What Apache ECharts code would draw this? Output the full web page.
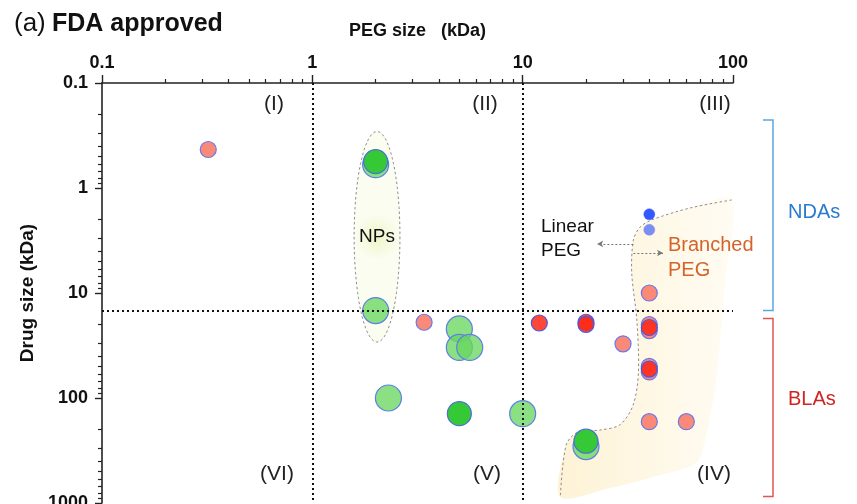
<!DOCTYPE html>
<html><head><meta charset="utf-8">
<script src="https://cdn.jsdelivr.net/npm/echarts@6/dist/echarts.min.js"></script>
<style>html,body{margin:0;padding:0;background:#fff}#c{width:857px;height:504px}</style>
</head><body><div id="c"></div>
<script>
// ---- tick values ----
const xMajorTicks = [0.1, 1, 10, 100];
const xMinorTicks = [0.2,0.3,0.4,0.5,0.6,0.7,0.8,0.9, 2,3,4,5,6,7,8,9, 20,30,40,50,60,70,80,90];
const yMajorTicks = [0.1, 1, 10, 100, 1000];
const yMinorTicks = [0.2,0.3,0.4,0.5,0.6,0.7,0.8,0.9, 2,3,4,5,6,7,8,9, 20,30,40,50,60,70,80,90, 200,300,400,500,600,700,800,900];

// ---- data: [PEG size kDa, drug size kDa] ----
const salmonPts = [[0.32,0.43],[3.4,19],[30,30.5],[40,10],[40,20],[40,22.8],[40,50],[40,56.5],[40,168],[60,168]];
const redPts = [[12,19.3],[20,19],[20,19.9],[40,21.3],[40,53]];
const lightGreenPts = [[2,0.6],[2,14.7],[5,22],[5,33],[5.6,33],[2.3,100],[10,141],[20,290]];
const darkGreenPts = [[2,0.56],[5,141],[20,258]];
const bluePts = [[40,1.78]];
const lightBluePts = [[40,2.5]];

// ---- guides ----
const pegDividers = [1, 10];
const drugDivider = 14.7;
const npEllipseBox = [[1.58, 0.29], [2.61, 29.3]];
const branchedEdge = [[98.7,1.30],[62.5,1.55],[41.7,1.99],[36.2,2.35],[33.6,3.13],[33.0,6.45],[34.9,18.1],[35.5,57.8],[33.5,117],[29.0,180],[23.3,202],[18.3,211],[16.1,280],[15.1,877]];
const branchedRight = [[26,720],[45,541],[66.8,416],[73.7,251],[83.2,67.4],[91.7,7.52]];
const linearArrow = [[33.6,3.41],[22.6,3.41]];
const branchedArrow = [[33.6,4.16],[46.5,4.16]];

const FONT = '"Liberation Sans", Arial, sans-serif';
const chart = echarts.init(document.getElementById('c'));

function scatter(name, data, color, size, z, border, bw) {
  return {
    name, type: 'scatter', data, symbolSize: size, z,
    itemStyle: { color, borderColor: border || '#6a78ec', borderWidth: bw || 1, opacity: 1 },
    emphasis: { disabled: true }
  };
}

const axisCommonX = {
  type: 'log', logBase: 10, min: 0.1, max: 100, position: 'top', gridIndex: 0,
  splitLine: { show: false }, minorTick: { show: false }
};
const axisCommonY = {
  type: 'log', logBase: 10, min: 0.1, max: 1000, inverse: true, position: 'left', gridIndex: 0,
  splitLine: { show: false }, minorTick: { show: false }
};

const option = {
  animation: false,
  backgroundColor: '#fff',
  grid: { left: 102, top: 83, right: 124, bottom: 1, containLabel: false, outerBoundsMode: 'none' },
  xAxis: [
    Object.assign({}, axisCommonX, {
      name: 'PEG size   (kDa)', nameLocation: 'middle', nameGap: 43,
      nameTextStyle: { fontFamily: FONT, fontWeight: 'bold', fontSize: 18, color: '#111' },
      axisLine: { show: true, lineStyle: { color: '#222', width: 1.6 } },
      axisTick: { show: true, length: 8, lineStyle: { color: '#222', width: 1.4 }, customValues: xMajorTicks },
      axisLabel: { show: true, margin: 11, fontFamily: FONT, fontWeight: 'bold', fontSize: 18, color: '#111',
        customValues: xMajorTicks, formatter: v => String(v) }
    }),
    Object.assign({}, axisCommonX, {
      offset: 0,
      axisLine: { show: false },
      axisTick: { show: true, length: 4, lineStyle: { color: '#222', width: 1.2 }, customValues: xMinorTicks },
      axisLabel: { show: false }
    })
  ],
  yAxis: [
    Object.assign({}, axisCommonY, {
      name: 'Drug size (kDa)', nameLocation: 'middle', nameGap: 64, nameRotate: 90,
      nameTextStyle: { fontFamily: FONT, fontWeight: 'bold', fontSize: 19, color: '#111' },
      axisLine: { show: true, lineStyle: { color: '#222', width: 1.6 } },
      axisTick: { show: true, length: 7, lineStyle: { color: '#222', width: 1.4 }, customValues: yMajorTicks },
      axisLabel: { show: true, margin: 14, fontFamily: FONT, fontWeight: 'bold', fontSize: 18, color: '#111',
        customValues: yMajorTicks, formatter: v => String(v) }
    }),
    Object.assign({}, axisCommonY, {
      offset: 0,
      axisLine: { show: false },
      axisTick: { show: true, length: 4, lineStyle: { color: '#222', width: 1.2 }, customValues: yMinorTicks },
      axisLabel: { show: false }
    })
  ],
  series: [
    {
      type: 'custom', name: 'regions', coordinateSystem: 'cartesian2d', data: [[1, 1]], z: 1, silent: true, clip: false,
      renderItem: function (params, api) {
        const edge = branchedEdge.map(p => api.coord(p));
        const right = branchedRight.map(p => api.coord(p));
        const fillPts = edge.concat(right);
        const a = api.coord(npEllipseBox[0]);
        const b = api.coord(npEllipseBox[1]);
        const cx = (a[0] + b[0]) / 2, cy = (a[1] + b[1]) / 2;
        const rx = Math.abs(b[0] - a[0]) / 2, ry = Math.abs(b[1] - a[1]) / 2;
        const ell = [];
        for (let i = 0; i < 90; i++) {
          const t = i / 90 * Math.PI * 2;
          ell.push([cx + rx * Math.cos(t), cy + ry * Math.sin(t)]);
        }
        return {
          type: 'group',
          children: [
            { type: 'polygon', shape: { points: fillPts, smooth: 0.3 },
              style: { fill: { type: 'linear', x: 0, y: 0, x2: 1, y2: 0, colorStops: [
                { offset: 0, color: 'rgba(253,240,206,0.85)' }, { offset: 1, color: 'rgba(255,251,240,0.8)' }] } } },
            { type: 'polyline', shape: { points: edge, smooth: 0.3 },
              style: { stroke: '#8c8c8c', lineWidth: 1, lineDash: [2.5, 2.5], fill: null } },
            { type: 'polygon', shape: { points: ell },
              style: { fill: { type: 'radial', x: 0.5, y: 0.5, r: 0.5, colorStops: [
                { offset: 0, color: '#eef6c8' }, { offset: 1, color: '#fbfdf1' }] },
                stroke: '#8c8c8c', lineWidth: 1, lineDash: [2.5, 2.5] } }
          ]
        };
      }
    },
    scatter('lightGreen', lightGreenPts, 'rgba(105,215,95,0.78)', 26, 3, '#5f7fe6', 1.2),
    scatter('darkGreen', darkGreenPts, '#36c936', 24, 4, '#4a70dc', 1.2),
    scatter('salmon', salmonPts, 'rgba(250,128,108,0.92)', 16, 5, '#6a78ec', 1.2),
    scatter('red', redPts, 'rgba(255,40,20,0.85)', 16, 6, '#4a5ae0', 1.2),
    scatter('lightBlue', lightBluePts, '#7b8ef2', 11, 6, '#7b8ef2', 0.5),
    scatter('blue', bluePts, '#3458ff', 11, 6, '#3458ff', 0.5),
    {
      type: 'scatter', name: 'guides', data: [], z: 10, silent: true,
      markLine: {
        silent: true, symbol: ['none', 'none'], label: { show: false }, animation: false,
        lineStyle: { color: '#111', width: 2, type: [2, 3] },
        emphasis: { disabled: true },
        data: [
          { xAxis: pegDividers[0] }, { xAxis: pegDividers[1] }, { yAxis: drugDivider }
        ]
      }
    },
    {
      type: 'scatter', name: 'arrows', data: [], z: 10, silent: true,
      markLine: {
        silent: true, symbol: ['none', 'arrow'], symbolSize: [5, 6], label: { show: false }, animation: false,
        lineStyle: { color: '#777', width: 1, type: [2, 2] },
        emphasis: { disabled: true },
        data: [
          [{ coord: linearArrow[0] }, { coord: linearArrow[1] }],
          [{ coord: branchedArrow[0] }, { coord: branchedArrow[1] }]
        ]
      }
    }
  ],
  graphic: [
    { type: 'text', left: 14, top: 11, style: { text: '(a)', fontFamily: FONT, fontSize: 26, fill: '#111' } },
    { type: 'text', left: 52, top: 12, style: { text: 'FDA approved', fontFamily: FONT, fontSize: 25, fontWeight: 'bold', fill: '#111' } },
    ...[['(I)', 274, 104], ['(II)', 485, 104], ['(III)', 715, 104], ['(VI)', 277, 474], ['(V)', 487, 474], ['(IV)', 714, 474]].map(q => ({
      type: 'text', x: q[1], y: q[2], z: 20,
      style: { text: q[0], fontFamily: FONT, fontSize: 21, fill: '#222', align: 'center', verticalAlign: 'middle' }
    })),
    { type: 'text', x: 377, y: 237, z: 20, style: { text: 'NPs', fontFamily: FONT, fontSize: 19, fill: '#111', align: 'center', verticalAlign: 'middle' } },
    { type: 'text', x: 541, y: 239, z: 20, style: { text: 'Linear\nPEG', fontFamily: FONT, fontSize: 19, lineHeight: 24, fill: '#111', align: 'left', verticalAlign: 'middle' } },
    { type: 'text', x: 668, y: 258, z: 20, style: { text: 'Branched\nPEG', fontFamily: FONT, fontSize: 20, lineHeight: 25, fill: '#d4642a', align: 'left', verticalAlign: 'middle' } },
    { type: 'polyline', z: 20, shape: { points: [[763, 120], [773, 120], [773, 310.5], [763, 310.5]] }, style: { stroke: '#5ba6e2', lineWidth: 1.5, fill: null } },
    { type: 'text', x: 788, y: 212, z: 20, style: { text: 'NDAs', fontFamily: FONT, fontSize: 20, fill: '#2a7bd0', align: 'left', verticalAlign: 'middle' } },
    { type: 'polyline', z: 20, shape: { points: [[763, 318.5], [773, 318.5], [773, 496.5], [763, 496.5]] }, style: { stroke: '#e05555', lineWidth: 1.5, fill: null } },
    { type: 'text', x: 788, y: 399, z: 20, style: { text: 'BLAs', fontFamily: FONT, fontSize: 20, fill: '#d02323', align: 'left', verticalAlign: 'middle' } }
  ]
};
chart.setOption(option);
</script>
</body></html>
